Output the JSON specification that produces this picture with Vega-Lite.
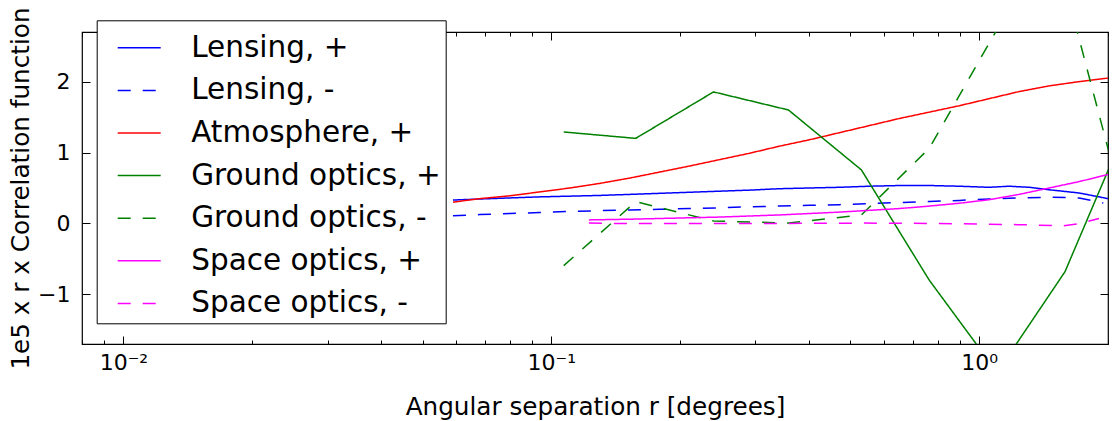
{
  "$schema": "https://vega.github.io/schema/vega-lite/v6.json",
  "width": 1026,
  "height": 312,
  "autosize": {"type": "none"},
  "padding": {"left": 82, "top": 32, "right": 5, "bottom": 77},
  "background": "white",
  "config": {"view": {"stroke": "black", "strokeWidth": 1.2}, "font": "DejaVu Sans"},
  "data": {"values": [
    {"s": "Lensing, +", "r": 0.0589, "v": 0.33},
    {"s": "Lensing, +", "r": 0.06808, "v": 0.345},
    {"s": "Lensing, +", "r": 0.08001, "v": 0.36},
    {"s": "Lensing, +", "r": 0.09401, "v": 0.375},
    {"s": "Lensing, +", "r": 0.1105, "v": 0.385},
    {"s": "Lensing, +", "r": 0.1298, "v": 0.395},
    {"s": "Lensing, +", "r": 0.1525, "v": 0.41},
    {"s": "Lensing, +", "r": 0.1792, "v": 0.425},
    {"s": "Lensing, +", "r": 0.2105, "v": 0.44},
    {"s": "Lensing, +", "r": 0.2473, "v": 0.455},
    {"s": "Lensing, +", "r": 0.2905, "v": 0.47},
    {"s": "Lensing, +", "r": 0.3413, "v": 0.49},
    {"s": "Lensing, +", "r": 0.401, "v": 0.5},
    {"s": "Lensing, +", "r": 0.4712, "v": 0.51},
    {"s": "Lensing, +", "r": 0.5537, "v": 0.525},
    {"s": "Lensing, +", "r": 0.6506, "v": 0.535},
    {"s": "Lensing, +", "r": 0.7644, "v": 0.535},
    {"s": "Lensing, +", "r": 0.8982, "v": 0.525},
    {"s": "Lensing, +", "r": 1.055, "v": 0.51},
    {"s": "Lensing, +", "r": 1.175, "v": 0.525},
    {"s": "Lensing, +", "r": 1.308, "v": 0.51},
    {"s": "Lensing, +", "r": 1.457, "v": 0.475},
    {"s": "Lensing, +", "r": 1.712, "v": 0.43},
    {"s": "Lensing, +", "r": 2.0, "v": 0.35},

    {"s": "Lensing, -", "r": 0.0589, "v": 0.11},
    {"s": "Lensing, -", "r": 0.06808, "v": 0.125},
    {"s": "Lensing, -", "r": 0.08001, "v": 0.14},
    {"s": "Lensing, -", "r": 0.09401, "v": 0.155},
    {"s": "Lensing, -", "r": 0.1105, "v": 0.17},
    {"s": "Lensing, -", "r": 0.1298, "v": 0.18},
    {"s": "Lensing, -", "r": 0.1525, "v": 0.19},
    {"s": "Lensing, -", "r": 0.1792, "v": 0.2},
    {"s": "Lensing, -", "r": 0.2105, "v": 0.21},
    {"s": "Lensing, -", "r": 0.2473, "v": 0.22},
    {"s": "Lensing, -", "r": 0.2905, "v": 0.235},
    {"s": "Lensing, -", "r": 0.3413, "v": 0.245},
    {"s": "Lensing, -", "r": 0.401, "v": 0.255},
    {"s": "Lensing, -", "r": 0.4712, "v": 0.265},
    {"s": "Lensing, -", "r": 0.5537, "v": 0.28},
    {"s": "Lensing, -", "r": 0.6506, "v": 0.295},
    {"s": "Lensing, -", "r": 0.7644, "v": 0.31},
    {"s": "Lensing, -", "r": 0.8982, "v": 0.325},
    {"s": "Lensing, -", "r": 1.055, "v": 0.345},
    {"s": "Lensing, -", "r": 1.24, "v": 0.36},
    {"s": "Lensing, -", "r": 1.457, "v": 0.37},
    {"s": "Lensing, -", "r": 1.712, "v": 0.36},
    {"s": "Lensing, -", "r": 1.95, "v": 0.29},

    {"s": "Atmosphere, +", "r": 0.0589, "v": 0.3},
    {"s": "Atmosphere, +", "r": 0.06808, "v": 0.35},
    {"s": "Atmosphere, +", "r": 0.08001, "v": 0.39},
    {"s": "Atmosphere, +", "r": 0.09401, "v": 0.445},
    {"s": "Atmosphere, +", "r": 0.1105, "v": 0.5},
    {"s": "Atmosphere, +", "r": 0.1298, "v": 0.565},
    {"s": "Atmosphere, +", "r": 0.1525, "v": 0.64},
    {"s": "Atmosphere, +", "r": 0.1792, "v": 0.725},
    {"s": "Atmosphere, +", "r": 0.2105, "v": 0.81},
    {"s": "Atmosphere, +", "r": 0.2473, "v": 0.9},
    {"s": "Atmosphere, +", "r": 0.2905, "v": 0.99},
    {"s": "Atmosphere, +", "r": 0.3413, "v": 1.09},
    {"s": "Atmosphere, +", "r": 0.401, "v": 1.18},
    {"s": "Atmosphere, +", "r": 0.4712, "v": 1.28},
    {"s": "Atmosphere, +", "r": 0.5537, "v": 1.38},
    {"s": "Atmosphere, +", "r": 0.6506, "v": 1.48},
    {"s": "Atmosphere, +", "r": 0.7644, "v": 1.57},
    {"s": "Atmosphere, +", "r": 0.8982, "v": 1.66},
    {"s": "Atmosphere, +", "r": 1.055, "v": 1.76},
    {"s": "Atmosphere, +", "r": 1.24, "v": 1.86},
    {"s": "Atmosphere, +", "r": 1.457, "v": 1.94},
    {"s": "Atmosphere, +", "r": 1.712, "v": 2.0},
    {"s": "Atmosphere, +", "r": 2.0, "v": 2.05},

    {"s": "Ground optics, +", "r": 0.1069, "v": 1.29},
    {"s": "Ground optics, +", "r": 0.1575, "v": 1.2},
    {"s": "Ground optics, +", "r": 0.2394, "v": 1.855},
    {"s": "Ground optics, +", "r": 0.3583, "v": 1.6},
    {"s": "Ground optics, +", "r": 0.5305, "v": 0.755},
    {"s": "Ground optics, +", "r": 0.7644, "v": -0.8},
    {"s": "Ground optics, +", "r": 1.1016, "v": -2.1},
    {"s": "Ground optics, +", "r": 1.587, "v": -0.68},
    {"s": "Ground optics, +", "r": 2.362, "v": 1.77},

    {"s": "Ground optics, -", "r": 0.1069, "v": -0.594},
    {"s": "Ground optics, -", "r": 0.1575, "v": 0.307},
    {"s": "Ground optics, -", "r": 0.2394, "v": 0.035},
    {"s": "Ground optics, -", "r": 0.3583, "v": 0.005},
    {"s": "Ground optics, -", "r": 0.5305, "v": 0.12},
    {"s": "Ground optics, -", "r": 0.7644, "v": 1.06},
    {"s": "Ground optics, -", "r": 1.1016, "v": 2.74},
    {"s": "Ground optics, -", "r": 1.587, "v": 3.36},
    {"s": "Ground optics, -", "r": 2.362, "v": -0.6},

    {"s": "Space optics, +", "r": 0.1224, "v": 0.05},
    {"s": "Space optics, +", "r": 0.1525, "v": 0.06},
    {"s": "Space optics, +", "r": 0.1792, "v": 0.07},
    {"s": "Space optics, +", "r": 0.2105, "v": 0.08},
    {"s": "Space optics, +", "r": 0.2473, "v": 0.09},
    {"s": "Space optics, +", "r": 0.2905, "v": 0.105},
    {"s": "Space optics, +", "r": 0.3413, "v": 0.12},
    {"s": "Space optics, +", "r": 0.401, "v": 0.14},
    {"s": "Space optics, +", "r": 0.4712, "v": 0.16},
    {"s": "Space optics, +", "r": 0.5537, "v": 0.185},
    {"s": "Space optics, +", "r": 0.6506, "v": 0.21},
    {"s": "Space optics, +", "r": 0.7644, "v": 0.245},
    {"s": "Space optics, +", "r": 0.8982, "v": 0.285},
    {"s": "Space optics, +", "r": 1.055, "v": 0.335},
    {"s": "Space optics, +", "r": 1.24, "v": 0.41},
    {"s": "Space optics, +", "r": 1.457, "v": 0.5},
    {"s": "Space optics, +", "r": 1.712, "v": 0.59},
    {"s": "Space optics, +", "r": 2.0, "v": 0.69},

    {"s": "Space optics, -", "r": 0.1224, "v": 0.005},
    {"s": "Space optics, -", "r": 0.1445, "v": 0.0},
    {"s": "Space optics, -", "r": 0.2221, "v": 0.0},
    {"s": "Space optics, -", "r": 0.3413, "v": 0.0},
    {"s": "Space optics, -", "r": 0.5248, "v": 0.005},
    {"s": "Space optics, -", "r": 0.8067, "v": 0.0},
    {"s": "Space optics, -", "r": 1.055, "v": -0.01},
    {"s": "Space optics, -", "r": 1.308, "v": -0.02},
    {"s": "Space optics, -", "r": 1.562, "v": -0.035},
    {"s": "Space optics, -", "r": 1.712, "v": -0.005},
    {"s": "Space optics, -", "r": 1.905, "v": 0.07}
  ]},
  "layer": [
    {
      "mark": {"type": "line", "clip": true, "strokeWidth": 1.5},
      "encoding": {
        "x": {
          "field": "r", "type": "quantitative",
          "scale": {"type": "log", "domain": [0.008, 2.0], "nice": false},
          "axis": {
            "orient": "bottom",
            "values": [0.008, 0.009, 0.01, 0.02, 0.03, 0.04, 0.05, 0.06, 0.07, 0.08, 0.09, 0.1, 0.2, 0.3, 0.4, 0.5, 0.6, 0.7, 0.8, 0.9, 1, 2],
            "labelExpr": "datum.value == 0.01 ? '10⁻²' : datum.value == 0.1 ? '10⁻¹' : datum.value == 1 ? '10⁰' : ''",
            "tickSize": {"condition": {"test": "datum.value == 0.01 || datum.value == 0.1 || datum.value == 1", "value": -8}, "value": -4},
            "tickColor": "black", "tickWidth": 1, "domain": false, "grid": false,
            "labelFontSize": 22, "labelColor": "black", "labelPadding": 16, "labelOverlap": false, "labelFlush": false, "labelBound": false,
            "title": "Angular separation r [degrees]", "titleFontSize": 24.7, "titleFontWeight": "normal", "titleColor": "black", "titlePadding": 17
          }
        },
        "y": {
          "field": "v", "type": "quantitative",
          "scale": {"domain": [-1.7, 2.7], "nice": false, "zero": false},
          "axis": {
            "orient": "left",
            "values": [-1, 0, 1, 2],
            "tickSize": -8, "tickColor": "black", "tickWidth": 1, "domain": false, "grid": false,
            "labelFontSize": 22, "labelColor": "black", "labelPadding": 20,
            "title": "1e5 x r x Correlation function", "titleFontSize": 24.7, "titleFontWeight": "normal", "titleColor": "black", "titlePadding": 4
          }
        },
        "color": {
          "field": "s", "type": "nominal",
          "scale": {
            "domain": ["Lensing, +", "Lensing, -", "Atmosphere, +", "Ground optics, +", "Ground optics, -", "Space optics, +", "Space optics, -"],
            "range": ["#0000ff", "#0000ff", "#ff0000", "#008000", "#008000", "#ff00ff", "#ff00ff"]
          },
          "legend": {
            "orient": "none", "legendX": 14.7, "legendY": -11.7, "title": null,
            "symbolType": "stroke", "symbolSize": 1849, "symbolStrokeWidth": 1.5,
            "labelFont": "DejaVu Sans", "labelFontSize": 29.5, "labelColor": "black", "labelOffset": 29.5, "labelLimit": 500,
            "symbolOffset": 15, "padding": 5, "rowPadding": 5.6,
            "fillColor": "white", "strokeColor": "black", "direction": "vertical"
          }
        },
        "strokeDash": {
          "field": "s", "type": "nominal",
          "scale": {
            "domain": ["Lensing, +", "Lensing, -", "Atmosphere, +", "Ground optics, +", "Ground optics, -", "Space optics, +", "Space optics, -"],
            "range": [[1, 0], [13, 12], [1, 0], [1, 0], [13, 12], [1, 0], [13, 12]]
          },
          "legend": {
            "orient": "none", "legendX": 14.7, "legendY": -11.7, "title": null,
            "symbolType": "stroke", "symbolSize": 1849, "symbolStrokeWidth": 1.5,
            "labelFont": "DejaVu Sans", "labelFontSize": 29.5, "labelColor": "black", "labelOffset": 29.5, "labelLimit": 500,
            "symbolOffset": 15, "padding": 5, "rowPadding": 5.6,
            "fillColor": "white", "strokeColor": "black", "direction": "vertical"
          }
        }
      }
    },
    {
      "mark": {"type": "line", "clip": true, "opacity": 0},
      "encoding": {
        "x": {
          "field": "r", "type": "quantitative",
          "axis": {
            "orient": "top",
            "values": [0.008, 0.009, 0.01, 0.02, 0.03, 0.04, 0.05, 0.06, 0.07, 0.08, 0.09, 0.1, 0.2, 0.3, 0.4, 0.5, 0.6, 0.7, 0.8, 0.9, 1, 2],
            "labels": false, "title": null, "domain": false, "grid": false,
            "tickSize": {"condition": {"test": "datum.value == 0.01 || datum.value == 0.1 || datum.value == 1", "value": -8}, "value": -4},
            "tickColor": "black", "tickWidth": 1
          }
        },
        "y": {
          "field": "v", "type": "quantitative",
          "axis": {
            "orient": "right", "values": [-1, 0, 1, 2],
            "labels": false, "title": null, "domain": false, "grid": false,
            "tickSize": -8, "tickColor": "black", "tickWidth": 1
          }
        },
        "detail": {"field": "s"}
      }
    }
  ],
  "resolve": {"axis": {"x": "independent", "y": "independent"}}
}
